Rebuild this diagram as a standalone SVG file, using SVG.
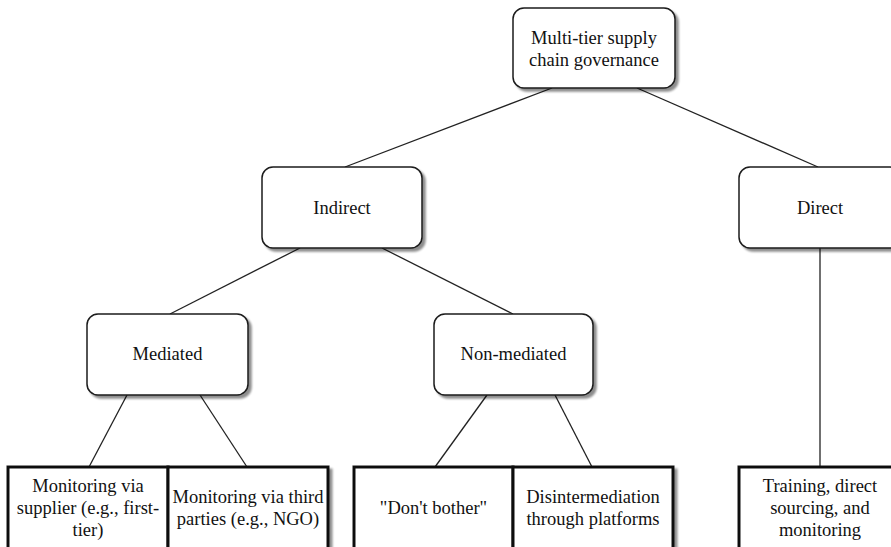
<svg xmlns="http://www.w3.org/2000/svg" width="891" height="547" viewBox="0 0 891 547">
<defs>
<filter id="sh" x="-10%" y="-10%" width="130%" height="130%">
<feGaussianBlur in="SourceAlpha" stdDeviation="1.2"/>
<feOffset dx="3" dy="3" result="b"/>
<feComponentTransfer><feFuncA type="linear" slope="0.45"/></feComponentTransfer>
<feMerge><feMergeNode/><feMergeNode in="SourceGraphic"/></feMerge>
</filter>
</defs>
<style>
.n{fill:#fff;stroke:#1a1a1a;stroke-width:1.5;filter:url(#sh)}
.b{fill:#fff;stroke:#111;stroke-width:3;filter:url(#sh)}
.c line{stroke:#222;stroke-width:1.3}
text{font-family:"Liberation Serif","Times New Roman",serif;font-size:18.5px;fill:#111;text-anchor:middle}
</style>
<rect width="891" height="547" fill="#fff"/>
<g class="c" id="connectors">
<line x1="552" y1="88" x2="345" y2="167"/>
<line x1="637" y1="88" x2="818" y2="167"/>
<line x1="300" y1="248" x2="170" y2="314"/>
<line x1="382" y1="248" x2="513" y2="314"/>
<line x1="127" y1="395" x2="89" y2="467"/>
<line x1="200" y1="395" x2="247" y2="467"/>
<line x1="487" y1="395" x2="435" y2="467"/>
<line x1="555" y1="395" x2="592" y2="467"/>
<line x1="820" y1="248" x2="820" y2="467"/>
</g>
<g id="root"><rect class="n" x="513" y="8" width="162" height="80" rx="11"/>
<text x="594" y="44">Multi-tier supply</text><text x="594" y="66">chain governance</text></g>
<g id="indirect"><rect class="n" x="262" y="167" width="160" height="81" rx="11"/>
<text x="342" y="214">Indirect</text></g>
<g id="direct"><rect class="n" x="739" y="167" width="162" height="81" rx="11"/>
<text x="820" y="214">Direct</text></g>
<g id="mediated"><rect class="n" x="87" y="314" width="161" height="81" rx="11"/>
<text x="167.5" y="360">Mediated</text></g>
<g id="nonmediated"><rect class="n" x="434" y="314" width="159" height="81" rx="11"/>
<text x="513.5" y="360">Non-mediated</text></g>
<g id="supplier"><rect class="b" x="8" y="467" width="160" height="100"/>
<text x="88" y="492">Monitoring via</text><text x="88" y="514">supplier (e.g., first-</text><text x="88" y="536">tier)</text></g>
<g id="thirdparties"><rect class="b" x="168" y="467" width="160" height="100"/>
<text x="248" y="503">Monitoring via third</text><text x="248" y="525">parties (e.g., NGO)</text></g>
<g id="dontbother"><rect class="b" x="354" y="467" width="159" height="100"/>
<text x="433.5" y="514">"Don't bother"</text></g>
<g id="disintermediation"><rect class="b" x="513" y="467" width="160" height="100"/>
<text x="593" y="503">Disintermediation</text><text x="593" y="525">through platforms</text></g>
<g id="training"><rect class="b" x="739" y="467" width="162" height="100"/>
<text x="820" y="492">Training, direct</text><text x="820" y="514">sourcing, and</text><text x="820" y="536">monitoring</text></g>
</svg>
